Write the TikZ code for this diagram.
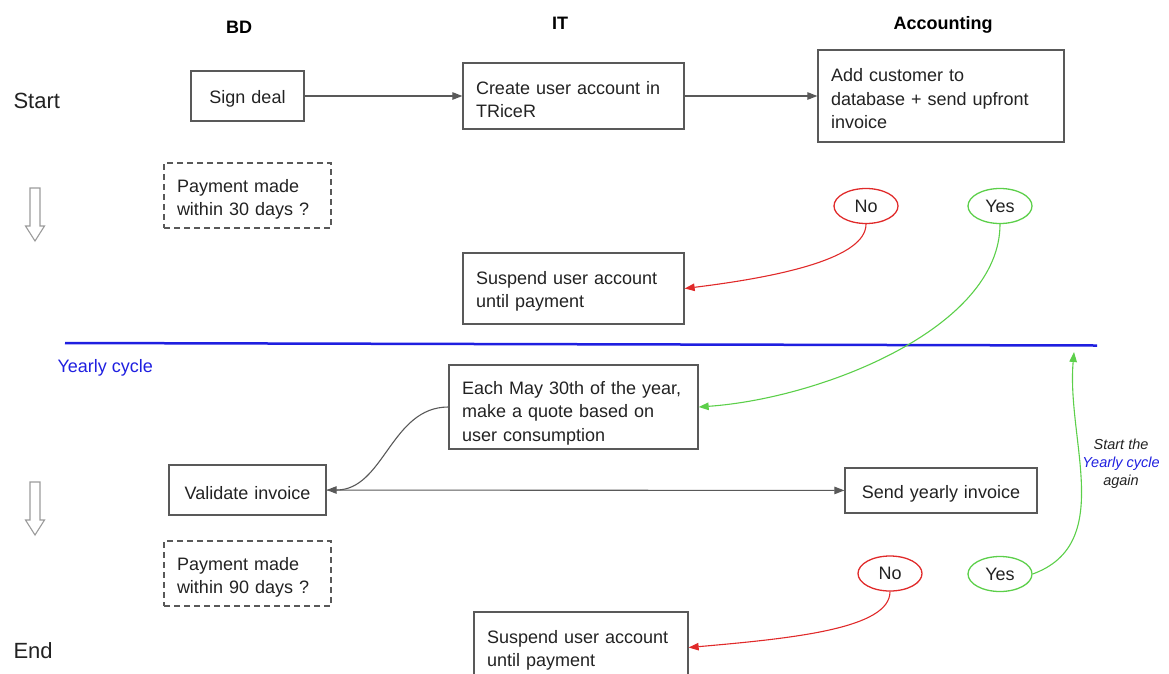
\documentclass[tikz,border=0pt]{standalone}
\usepackage{fontspec}
\setmainfont{Liberation Sans}
\usetikzlibrary{arrows.meta, shapes, positioning}

\definecolor{boxgray}{HTML}{595959}
\definecolor{txtgray}{HTML}{222222}
\definecolor{nored}{HTML}{E02A2A}
\definecolor{yesgreen}{HTML}{5CCF4A}
\definecolor{cycleblue}{HTML}{1F1FE0}

\tikzset{
  drop/.style={execute at begin node={\vrule width 0pt height #1\relax}},
  flowbox/.style={draw=boxgray, line width=1.3pt, text=txtgray, font=\fontsize{18}{23.5}\selectfont,
    inner xsep=13pt, inner ysep=0pt, align=left, drop=19pt},
  askbox/.style={flowbox, dash pattern=on 6pt off 4pt, drop=21pt},
  answer/.style={ellipse, draw=#1, line width=1.3pt, minimum width=64pt, minimum height=35pt,
    inner sep=0pt, text=txtgray, font=\fontsize{18}{22}\selectfont},
  lane/.style={anchor=base, text=black, font=\fontsize{18}{22}\selectfont\bfseries},
  phase/.style={anchor=base west, text=txtgray, font=\fontsize{22}{26}\selectfont},
  flow/.style={-{Triangle[length=10pt,width=7.5pt]}, line width=1.1pt, draw=#1},
  flow/.default=boxgray,
  timeline/.style={draw=boxgray!60, line width=1.1pt, line join=miter}
}

\begin{document}
\begin{tikzpicture}[x=1pt, y=1pt]
  \useasboundingbox (0,0) rectangle (1169,-673);

  % Lanes and phases
  \node[lane] (bd) at (239,-33) {BD};
  \node[lane] (it) at (560,-29) {IT};
  \node[lane] (acc) at (943,-29) {Accounting};
  \node[phase] (start) at (10,-108) {Start};
  \node[phase] (end) at (10,-658) {End};
  \foreach \y in {188,482}
    \draw[timeline] (30,-\y) -- (40,-\y) -- (40,-\y-38) -- (44.5,-\y-38) -- (35,-\y-53)
      -- (25.5,-\y-38) -- (30,-\y-38) -- cycle;

  % First payment
  \node[flowbox, align=center, text width=87pt, minimum height=50pt, drop=17pt] (deal) at (247.5,-96) {Sign deal};
  \node[flowbox, text width=195pt, minimum height=66pt, drop=20pt] (account) at (573.5,-96) {Create user account in\\TRiceR};
  \node[flowbox, text width=220pt, minimum height=92pt] (customer) at (941,-96) {Add customer to\\database + send upfront\\invoice};
  \node[askbox, text width=141pt, minimum height=65pt] (ask30) at (247.5,-195.5) {Payment made\\within 30 days ?};
  \node[answer=nored] (no30) at (866,-206) {No};
  \node[answer=yesgreen] (yes30) at (1000,-206) {Yes};
  \node[flowbox, text width=195pt, minimum height=71pt, drop=17pt] (suspend30) at (573.5,-288.5) {Suspend user account\\until payment};

  % Yearly cycle
  \coordinate (cyclel) at (65,-343);
  \coordinate (cycler) at (1097,-345.5);
  \draw[cycleblue, line width=2.5pt] (cyclel) -- (cycler);
  \node[anchor=base west, text=cycleblue, font=\fontsize{18}{22}\selectfont] (cycle) at (54,-372) {Yearly cycle};
  \node[flowbox, text width=223pt, minimum height=84pt, drop=25pt] (quote) at (573.5,-407) {Each May 30th of the year,\\make a quote based on\\user consumption};
  \node[flowbox, align=center, text width=131pt, minimum height=50pt, drop=15pt] (validate) at (247.5,-490) {Validate invoice};
  \node[flowbox, align=center, text width=166pt, minimum height=45pt] (send) at (941,-490.5) {Send yearly invoice};
  \node[askbox, text width=141pt, minimum height=65pt] (ask90) at (247.5,-573.5) {Payment made\\within 90 days ?};
  \node[answer=nored] (no90) at (890,-573.5) {No};
  \node[answer=yesgreen] (yes90) at (1000,-574) {Yes};
  \node[flowbox, text width=188pt, minimum height=71pt, drop=17pt] (suspend90) at (581,-647.5) {Suspend user account\\until payment};
  \node[align=center, text=txtgray, font=\fontsize{14.5}{18}\selectfont\itshape] (again) at (1121,-464)
    {Start the\\\textcolor{cycleblue}{Yearly cycle}\\again};
  \coordinate (restart) at (1074,-352);

  % Connectors
  \draw[flow] (deal) -- (account);
  \draw[flow] (account) -- (customer);
  \draw[flow=nored] (no30.south) to[out=-90, in=7, out looseness=0.45, in looseness=1.3] (suspend30.east);
  \draw[flow=yesgreen] (yes30.south) to[out=-90, in=4, out looseness=0.75, in looseness=0.9] (quote.east);
  \draw[flow] (quote.west) to[out=180, in=0] (validate.east);
  \draw[flow] (validate) -- (send);
  \draw[flow=nored] (no90.south) to[out=-90, in=5, out looseness=0.45, in looseness=1.3] (suspend90.east);
  \draw[flow=yesgreen] (yes90.east) to[out=20, in=-95] (restart);
\end{tikzpicture}
\end{document}
